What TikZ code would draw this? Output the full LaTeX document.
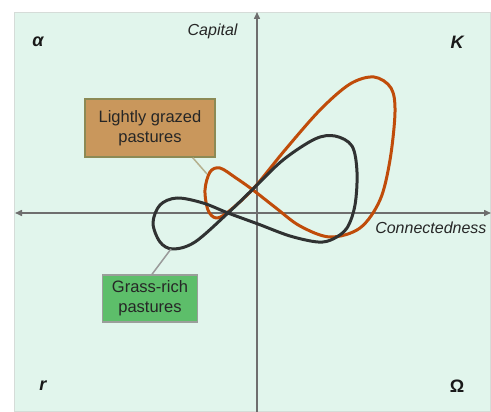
\documentclass[tikz,border=0pt]{standalone}
\usepackage{fontspec}
\setmainfont{Liberation Sans}
\usetikzlibrary{arrows.meta}
\definecolor{panelbg}{HTML}{E1F5EC}
\definecolor{panelborder}{HTML}{D5DCD8}
\definecolor{axiscol}{HTML}{6E6E6E}
\definecolor{orangecurve}{HTML}{C04C0A}
\definecolor{blackcurve}{HTML}{303232}
\definecolor{tanfill}{HTML}{C9975C}
\definecolor{tanborder}{HTML}{8C8A55}
\definecolor{greenfill}{HTML}{5DBE6A}
\definecolor{greenborder}{HTML}{9A9E9A}
\definecolor{tanleader}{HTML}{B4B08E}
\definecolor{greyleader}{HTML}{9A9A9A}
\begin{document}
\begin{tikzpicture}[x=1pt,y=-1pt,
  axis/.style={draw=axiscol,line width=1.5pt},
  axtip/.style={-{Triangle[length=7pt,width=6pt]}},
  axlabel/.style={font=\fontsize{16}{18}\selectfont\itshape,text=black!85},
  corner/.style={font=\fontsize{18}{20}\selectfont\bfseries,text=black!90},
  curve/.style={line width=3pt,line join=round},
  labelbox/.style={draw,line width=1.5pt,align=center,inner sep=0pt,
    font=\fontsize{16.5}{20}\selectfont,text=black!85},
  leader/.style={line width=1.5pt}]
\useasboundingbox (0,0) rectangle (491,412);
\fill[white] (0,0) rectangle (491,412);
\filldraw[fill=panelbg,draw=panelborder,line width=0.8pt] (14,12) rectangle (490,411);
% axes
\coordinate (ytop) at (257,12);
\coordinate (ybot) at (257,412);
\coordinate (xleft) at (15,213);
\coordinate (xright) at (491,213);
\draw[axis,axtip] (ybot) -- (ytop);
\draw[axis,{Triangle[length=7pt,width=6pt]}-{Triangle[length=7pt,width=6pt]}] (xleft) -- (xright);
\node[axlabel,anchor=east] (cap) at (241,31) {Capital};
\node[axlabel,anchor=east] (conn) at (490,228) {Connectedness};
\node[corner] (alpha) at (38,42) {\itshape α};
\node[corner] (K) at (457,42) {\itshape K};
\node[corner] (r) at (43,386) {\itshape r};
\node[corner] (Om) at (457,386) {Ω};
% orange curve
\draw[curve,draw=orangecurve] plot[smooth cycle,tension=0.55] coordinates {
  (330,237) (300,226) (276,208) (253,190) (236,178) (220,168) (210,172)
  (205,190) (208,210) (216,218) (228,212) (253,189) (285,150) (320,110)
  (350,84) (374,77) (391,88) (395,112) (390,160) (380,200) (360,228)};
% black curve
\draw[curve,draw=blackcurve] plot[smooth cycle,tension=0.55] coordinates {
  (318,242) (290,236) (258,224) (228,213) (203,203) (177,198) (160,205)
  (153,223) (160,242) (173,249) (195,242) (228,213) (253,189) (283,160)
  (315,139) (335,136) (352,146) (357,172) (355,205) (347,228) (333,239)};
% label boxes
\node[labelbox,fill=tanfill,draw=tanborder,minimum width=130pt,minimum height=58pt]
  (light) at (150,128) {Lightly grazed\\pastures};
\node[labelbox,fill=greenfill,draw=greenborder,minimum width=95pt,minimum height=47pt]
  (grass) at (150,298.5) {Grass-rich\\pastures};
\coordinate (lighttip) at (207,174);
\coordinate (grasstip) at (171,249);
\draw[leader,draw=tanleader] (light.south east) ++(-23,0) coordinate (lightfoot) -- (lighttip);
\draw[leader,draw=greyleader] (grass.north) ++(2,0) coordinate (grassfoot) -- (grasstip);
\end{tikzpicture}
\end{document}
